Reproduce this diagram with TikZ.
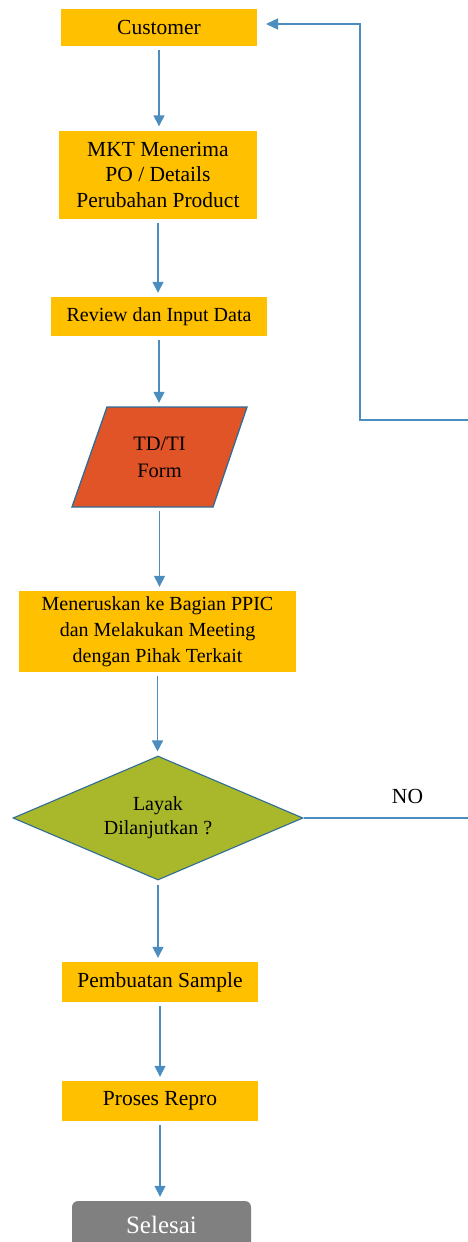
\documentclass[tikz,border=0pt]{standalone}
\usepackage{fontspec}
\setmainfont{Liberation Serif}
\usetikzlibrary{shapes.geometric,arrows.meta}

\definecolor{boxgold}{RGB}{255,192,0}
\definecolor{formred}{RGB}{224,84,40}
\definecolor{decgreen}{RGB}{168,184,42}
\definecolor{edgeblue}{RGB}{47,108,150}
\definecolor{flowblue}{RGB}{74,141,190}
\definecolor{endgray}{RGB}{128,128,128}

\tikzset{
  procbox/.style={rectangle, fill=boxgold, inner sep=0pt, align=center,
    font=\fontsize{21.5}{25.5}\selectfont},
  flow/.style={draw=flowblue, line width=1.4pt,
    -{Triangle[length=11pt,width=11pt]}, shorten >=4pt, shorten <=4pt},
  loopline/.style={draw=flowblue, line width=1.4pt,
    -{Triangle[length=12pt,width=11pt]}}
}

\begin{document}
\begin{tikzpicture}[x=1pt,y=-1pt]
  \useasboundingbox (0,0) rectangle (468,1242);
  \clip (0,0) rectangle (468,1242);

  % process steps
  \node[procbox, minimum width=196pt, minimum height=37pt] (cust) at (159,27.5) {Customer};
  \node[procbox, minimum width=198pt, minimum height=88pt] (mkt) at (158,174.5)
    {MKT Menerima\\PO / Details\\Perubahan Product};
  \node[procbox, minimum width=216pt, minimum height=39pt,
        font=\fontsize{20}{24}\selectfont] (rev) at (159,316.5) {Review dan Input Data};

  % input/output form
  \fill[formred, draw=edgeblue, line width=1.3pt]
    (107,407) -- (247,407) -- (213,507) -- (72,507) -- cycle;
  \node[rectangle, minimum width=10pt, minimum height=100pt, inner sep=0pt,
        align=center, font=\fontsize{20.5}{27}\selectfont] (td) at (159.5,457) {TD/TI\\Form};

  \node[procbox, minimum width=277pt, minimum height=81pt,
        font=\fontsize{20}{26}\selectfont] (men) at (157.5,631.5)
    {Meneruskan ke Bagian PPIC\\dan Melakukan Meeting\\dengan Pihak Terkait};

  % decision
  \node[diamond, fill=decgreen, draw=edgeblue, line width=1.1pt, inner sep=0pt,
        aspect=2.34, minimum width=290pt, minimum height=124pt, align=center,
        font=\fontsize{20}{24}\selectfont] (dec) at (158,818) {Layak\\Dilanjutkan ?};
  \node[font=\fontsize{21.5}{25}\selectfont, inner sep=0pt] (no) at (407.5,796) {NO};

  \node[procbox, minimum width=196pt, minimum height=40pt] (pem) at (160,982) {Pembuatan Sample};
  \node[procbox, minimum width=196pt, minimum height=40pt] (pro) at (160,1101) {Proses Repro};

  % terminator
  \node[rectangle, rounded corners=6pt, fill=endgray, text=white, inner sep=0pt,
        minimum width=179pt, minimum height=48pt,
        font=\fontsize{25}{30}\selectfont] (sel) at (161.5,1225) {Selesai};

  % main flow
  \draw[flow] (cust.south) -- (cust.south |- mkt.north);
  \draw[flow] (mkt.south) -- (mkt.south |- rev.north);
  \draw[flow] (rev.south) -- (rev.south |- td.north);
  \draw[flow] (td.south) -- (td.south |- men.north);
  \draw[flow] (men.south) -- (men.south |- dec.north);
  \draw[flow] (dec.south) -- (dec.south |- pem.north);
  \draw[flow] (pem.south) -- (pro.north);
  \draw[flow] (pro.south) -- (pro.south |- sel.north);

  % rejection loop back to the customer
  \coordinate (r1) at (490,818);
  \coordinate (r2) at (490,420);
  \coordinate (r3) at (360,420);
  \coordinate (r4) at (360,24);
  \coordinate (ctip) at (266,24);
  \draw[loopline] (dec.east) -- (r1) -- (r2) -- (r3) -- (r4) -- (ctip);
\end{tikzpicture}
\end{document}
